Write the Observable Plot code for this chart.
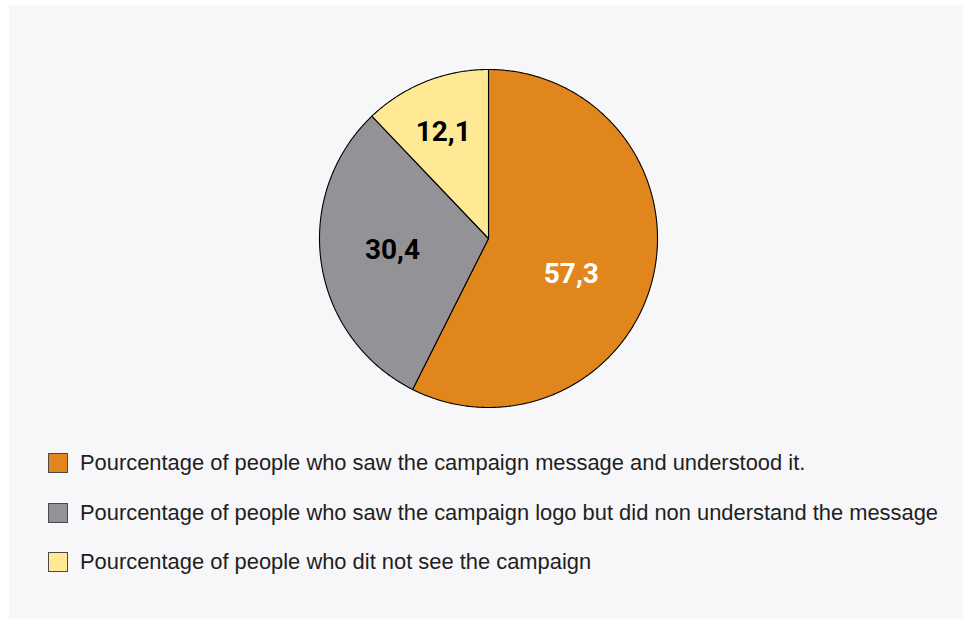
<!DOCTYPE html>
<html>
<head>
<meta charset="utf-8">
<script src="https://cdn.jsdelivr.net/npm/d3@7"></script>
<script src="https://cdn.jsdelivr.net/npm/@observablehq/plot@0.6"></script>
<style>
  html, body { margin: 0; padding: 0; background: #ffffff; }
  #page { position: relative; width: 963px; height: 619px; overflow: hidden; }
  #panel { position: absolute; left: 9px; top: 5px; right: 0; bottom: 0; background: #f7f7f9; }
  #chart { position: absolute; left: 0; top: 0; }
  #legend { position: absolute; left: 48px; top: 453px; font-family: "Liberation Sans", Arial, sans-serif; font-size: 21.9px; color: #1e1e1e; }
  .row { display: flex; align-items: center; height: 20px; margin-bottom: 29.5px; white-space: nowrap; }
  .sw { width: 18px; height: 18px; border: 1px solid #4a4a4a; margin-right: 12px; flex: none; }
</style>
</head>
<body>
<div id="page">
  <div id="panel"></div>
  <div id="chart"></div>
  <div id="legend"></div>
</div>
<script>
// ---- data ----
const categories = [
  "Pourcentage of people who saw the campaign message and understood it.",
  "Pourcentage of people who saw the campaign logo but did non understand the message",
  "Pourcentage of people who dit not see the campaign"
];
const values = [57.3, 30.4, 12.1];
const valueLabels = ["57,3", "30,4", "12,1"];
const colors = ["#e1861c", "#939397", "#ffe995"];
const labelColors = ["#ffffff", "#000000", "#000000"];

// ---- style (label placement tweaks) ----
const labelRadius = [0.53, 0.572, 0.69];
const labelAngleNudge = [9, 2, -1]; // degrees

// ---- geometry from data ----
const pie = d3.pie().sort(null).value(d => d.value);
const table = categories.map((c, i) => ({category: c, value: values[i], label: valueLabels[i], i}));
const arcs = pie(table);

const outline = [];
arcs.forEach(a => {
  const cat = a.data.category;
  outline.push({category: cat, x: 0, y: 0});
  const steps = Math.max(2, Math.ceil((a.endAngle - a.startAngle) / (Math.PI / 360)));
  for (let k = 0; k <= steps; k++) {
    const t = a.startAngle + (a.endAngle - a.startAngle) * k / steps;
    outline.push({category: cat, x: Math.sin(t), y: Math.cos(t)});
  }
  outline.push({category: cat, x: 0, y: 0});
});

const labels = arcs.map(a => {
  const i = a.data.i;
  const mid = (a.startAngle + a.endAngle) / 2 + labelAngleNudge[i] * Math.PI / 180;
  const r = labelRadius[i];
  return {x: r * Math.sin(mid), y: r * Math.cos(mid), label: a.data.label, color: labelColors[i]};
});

const W = 963, H = 430, R = 169, CX = 488, CY = 238;

const chart = Plot.plot({
  width: W,
  height: H,
  marginLeft: CX - R,
  marginRight: W - (CX + R),
  marginTop: CY - R,
  marginBottom: H - (CY + R),
  x: {domain: [-1, 1], axis: null},
  y: {domain: [-1, 1], axis: null},
  color: {domain: categories, range: colors},
  style: {background: "transparent", overflow: "visible"},
  marks: [
    Plot.line(outline, {x: "x", y: "y", z: "category", fill: "category", stroke: "#000", strokeWidth: 1.1, strokeLinejoin: "round"}),
    Plot.text(labels, {x: "x", y: "y", text: "label", fill: d => d.color, fontSize: 28, fontWeight: "bold", fontFamily: "Roboto, sans-serif", textAnchor: "middle", dy: 1})
  ]
});
document.getElementById("chart").appendChild(chart);

// legend
const legend = document.getElementById("legend");
categories.forEach((c, i) => {
  const row = document.createElement("div");
  row.className = "row";
  const sw = document.createElement("div");
  sw.className = "sw";
  sw.style.background = colors[i];
  const tx = document.createElement("span");
  tx.textContent = c;
  row.appendChild(sw);
  row.appendChild(tx);
  legend.appendChild(row);
});
</script>
</body>
</html>
